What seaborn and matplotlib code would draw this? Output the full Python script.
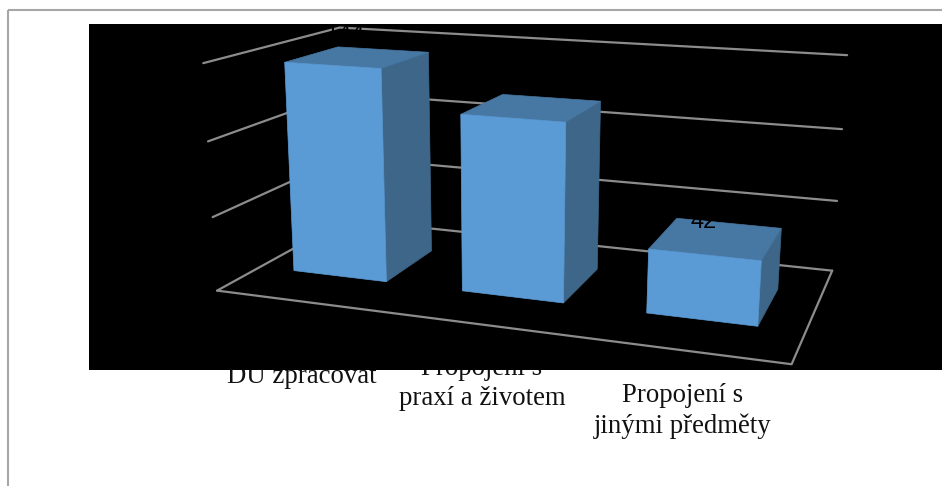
import numpy as np
import pandas as pd
import matplotlib
matplotlib.use("Agg")
import matplotlib.pyplot as plt
from matplotlib.patches import Polygon, Rectangle
import seaborn as sns

# Chart data
categories = ["DÚ zpracovat", "Propojení s\npraxí a životem", "Propojení s\njinými předměty"]
values = [144, 118, 42]
value_labels = ["144", "118", "42"]
grid_levels = [0, 50, 100, 150]

# Colours of the three visible faces
FRONT, TOP, SIDE = "#5B9BD5", "#4777A3", "#3D6688"
GRID = "#8C8C8C"
FRAME = "#A6A6A6"

sns.set_theme(style="white")
plt.rcParams["font.family"] = ["Liberation Serif", "DejaVu Serif"]

W, H = 942, 486
fig = plt.figure(figsize=(W / 100, H / 100), dpi=100)
fig.patch.set_facecolor("white")

# Hidden seaborn bar chart: supplies x span and height of every bar
helper = fig.add_axes([0, 0, 1, 1])
frame = pd.DataFrame({"category": categories, "value": values})
sns.barplot(frame, x="category", y="value", gap=0.0, width=0.56, ax=helper, errorbar=None)
bars = [(p.get_x() + 0.488, p.get_width(), p.get_height()) for p in helper.patches]
helper.remove()

ax = fig.add_axes([0, 0, 1, 1])
ax.set_xlim(0, W)
ax.set_ylim(H, 0)
ax.axis("off")

# Perspective camera solved from the corners of the chart cage (category, depth, value -> canvas)
cage = [
    ((0, 0, 0), (217, 290)), ((3, 0, 0), (792, 364)),
    ((0, 1, 0), (346, 220)), ((3, 1, 0), (832, 271)),
    ((0, 1, 150), (340, 27)), ((3, 1, 150), (847, 55)),
    ((0, 0, 150), (203, 64)),
]
rows, rhs = [], []
for (x, y, z), (u, v) in cage:
    rows.append([x, y, z, 1, 0, 0, 0, 0, -u * x, -u * y, -u * z])
    rows.append([0, 0, 0, 0, x, y, z, 1, -v * x, -v * y, -v * z])
    rhs += [u, v]
camera = np.append(np.linalg.lstsq(np.array(rows, float), np.array(rhs, float), rcond=None)[0], 1).reshape(3, 4)


def project(x, y, z):
    p = camera @ np.array([x, y, z, 1.0])
    return p[:2] / p[2]


# Page frame and the dark plot panel
ax.plot([8, 8], [H, 10], color=FRAME, lw=1.5, zorder=1, solid_capstyle="butt")
ax.plot([8, W], [10, 10], color=FRAME, lw=1.5, zorder=1, solid_capstyle="butt")

# Category names sit under the panel, which cuts into their top edge
label_x = [302, 482, 683]
label_y = [383, 405, 433]
for name, lx, ly in zip(categories, label_x, label_y):
    ax.text(lx, ly, name, ha="center", va="baseline", fontsize=19.3, linespacing=1.27,
            color="#111111", zorder=2)
ax.add_patch(Rectangle((89, 24), W - 89, 346, facecolor="black", edgecolor="none", zorder=3))

# Gridlines on the back and left walls, then the floor outline
for level in grid_levels:
    wall = np.array([project(0, 0, level), project(0, 1, level), project(3, 1, level)])
    ax.plot(wall[:, 0], wall[:, 1], color=GRID, lw=1.6, zorder=4)
floor = np.array([project(0, 0, 0), project(3, 0, 0), project(3, 1, 0)])
ax.plot(floor[:, 0], floor[:, 1], color=GRID, lw=1.6, zorder=4)

# Each bar is a prism: front, top and right faces
DEPTH_FRONT, DEPTH_BACK = 0.30, 0.71
for (x0, width, height), text in zip(bars, value_labels):
    x1 = x0 + width
    flb, frb = project(x0, DEPTH_FRONT, 0), project(x1, DEPTH_FRONT, 0)
    flt, frt = project(x0, DEPTH_FRONT, height), project(x1, DEPTH_FRONT, height)
    brb = project(x1, DEPTH_BACK, 0)
    blt, brt = project(x0, DEPTH_BACK, height), project(x1, DEPTH_BACK, height)
    ax.add_patch(Polygon([frb, brb, brt, frt], facecolor=SIDE, edgecolor=SIDE, lw=0.5, zorder=5))
    ax.add_patch(Polygon([flt, frt, brt, blt], facecolor=TOP, edgecolor=TOP, lw=0.5, zorder=5))
    ax.add_patch(Polygon([flb, frb, frt, flt], facecolor=FRONT, edgecolor=FRONT, lw=0.5, zorder=6))
    # Value labels are black, so they only show where they overlap a bar's top face
    centre = project(x0 + width / 2, (DEPTH_FRONT + DEPTH_BACK) / 2, height * 1.04)
    ax.annotate(text, centre, xytext=(-13, 14), textcoords="offset pixels", ha="center", va="center",
                fontsize=17, family=["Liberation Sans", "DejaVu Sans"], color="black", zorder=7)

fig.savefig("out.png", dpi=100)
